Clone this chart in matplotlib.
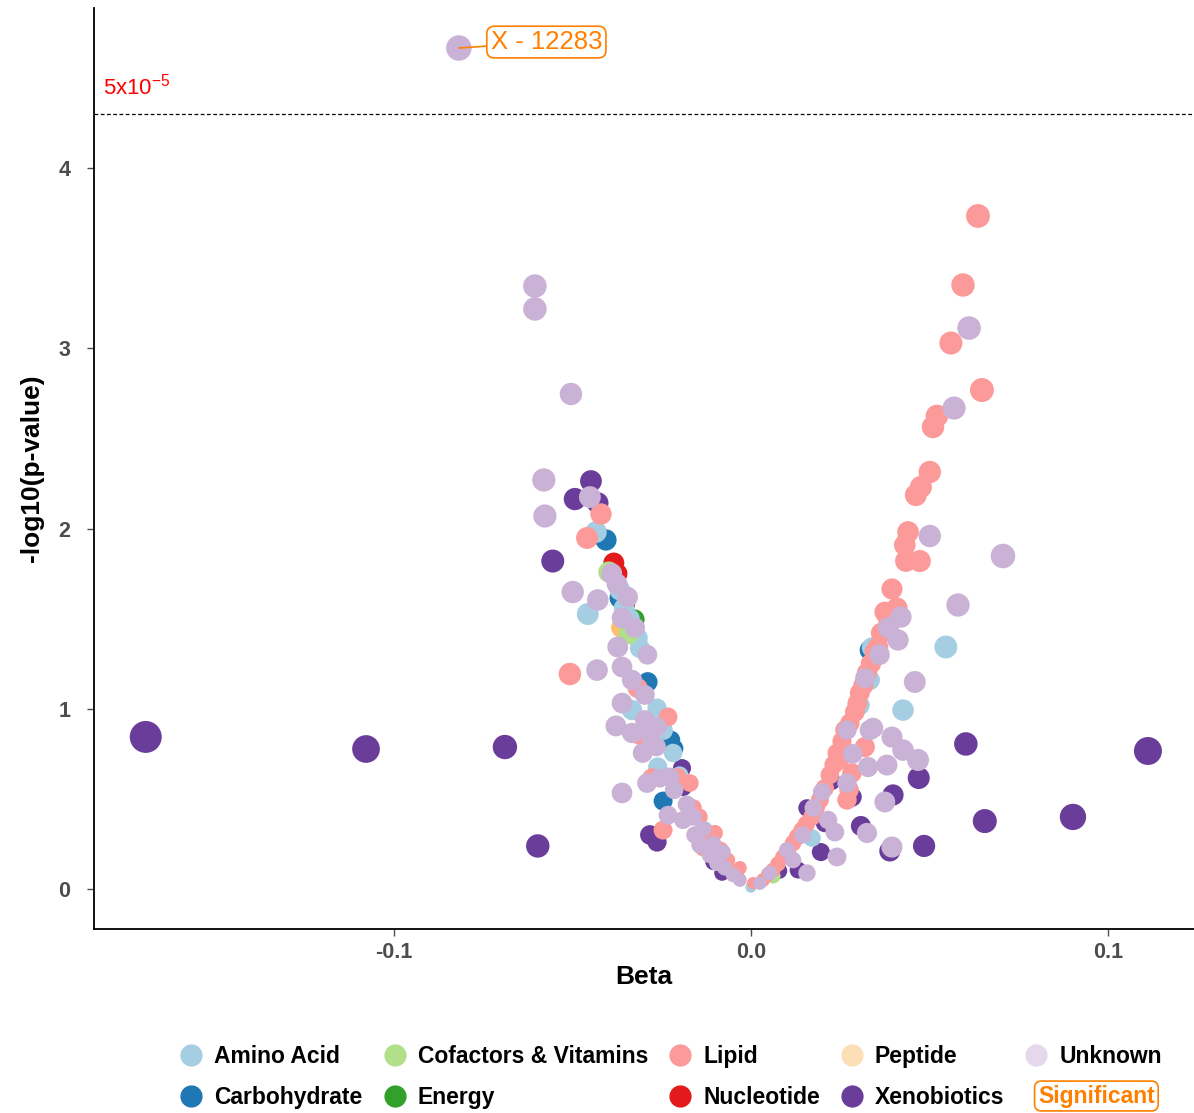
import matplotlib
matplotlib.use("Agg")
import matplotlib.pyplot as plt
from matplotlib.lines import Line2D
import numpy as np

plt.rcParams['font.family'] = ['Liberation Sans', 'DejaVu Sans']

# values (beta, -log10 p) per super pathway
unknown_beta = [-0.0818, -0.0605, -0.0605, -0.0504, -0.058, -0.0577, -0.0451, -0.0499, -0.0429, -0.0431,
                -0.0378, -0.0361, -0.0375, -0.0361, -0.0373, -0.0361, -0.0333, -0.0361, -0.0297, -0.0297,
                -0.0283, -0.0303, -0.0333, -0.0263, -0.0232, -0.019, -0.0157, -0.0078, -0.0095, -0.005,
                -0.0291, -0.0255, -0.0227, -0.0162, -0.0143, -0.0115, -0.0031, -0.0073, -0.039, -0.0345,
                -0.0325, -0.029, -0.0265, -0.0215, -0.018, -0.0135, -0.0105,
                0.0611, 0.0569, 0.0501, 0.0706, 0.058, 0.042, 0.0412, 0.0459, 0.032, 0.0333,
                0.0395, 0.0426, 0.0468, 0.0381, 0.0328, 0.0342, 0.0375, 0.0325, 0.0395, 0.0241,
                0.0157, 0.0216, 0.0235, 0.0199, 0.0118, 0.0053, 0.0025, 0.0101, 0.0269, 0.0269,
                0.0175, 0.0145, 0.0285, 0.036, 0.0385]
unknown_logp = [4.667, 3.346, 3.219, 2.747, 2.27, 2.07, 2.175, 1.648, 1.604, 1.215,
                0.905, 0.533, 1.693, 1.504, 1.343, 1.232, 1.16, 1.032, 1.077, 0.938,
                0.855, 0.755, 0.866, 0.90, 0.41, 0.383, 0.30, 0.205, 0.144, 0.078,
                0.588, 0.616, 0.622, 0.40, 0.244, 0.189, 0.05, 0.117, 1.75, 1.62,
                1.45, 1.30, 0.79, 0.55, 0.47, 0.33, 0.25,
                3.113, 2.669, 1.959, 1.848, 1.576, 1.509, 1.382, 1.149, 1.17, 0.882,
                0.843, 0.771, 0.716, 0.688, 0.677, 0.894, 0.483, 0.311, 0.233, 0.178,
                0.089, 0.383, 0.316, 0.538, 0.161, 0.089, 0.033, 0.216, 0.882, 0.588,
                0.45, 0.30, 0.75, 1.30, 1.45]

xeno_beta = [-0.1695, -0.1078, -0.0689, -0.0597, -0.0555, -0.0448, -0.0493, -0.0429, -0.0347, 0.0602,
             0.1112, 0.0655, 0.0902, 0.0485, 0.047, 0.0398, 0.0389, 0.0308, 0.0196, 0.0283,
             0.0132, 0.0207, 0.0157, -0.0283, -0.0263, -0.0193, -0.019, -0.0081, 0.0225, 0.0245,
             -0.0105, 0.008]
xeno_logp = [0.844, 0.777, 0.788, 0.239, 1.82, 2.264, 2.164, 2.142, 1.493, 0.805,
             0.766, 0.377, 0.40, 0.239, 0.616, 0.522, 0.211, 0.35, 0.205, 0.511,
             0.105, 0.366, 0.45, 0.30, 0.261, 0.671, 0.566, 0.089, 0.60, 0.72,
             0.15, 0.10]

lipid_beta = [0.0636, 0.0594, 0.056, 0.0647, 0.0521, 0.051, 0.0501, 0.0476, 0.0462, 0.044,
              0.0431, 0.0434, 0.0473, 0.0395, 0.0409, 0.0375, 0.0356, 0.0347, 0.0325, 0.0305,
              0.0291, 0.0263, 0.0319, 0.0283, 0.0269, 0.0241, 0.0221, 0.0193, 0.0171, 0.0143,
              0.0118, 0.009, 0.0062, 0.0034, 0.0249, 0.0385, 0.0365, 0.0336, 0.0315, 0.0298,
              0.0277, 0.0255, 0.0232, 0.0207, 0.0182, 0.0155, 0.013, 0.0104, 0.0076, 0.0048,
              0.0275,
              -0.0507, -0.042, -0.0459, -0.0317, -0.0311, -0.0277, -0.0171, -0.0246, -0.0162, -0.0123,
              -0.0101, -0.0134, -0.0036, 0.0006, -0.0031, -0.0232, -0.0205, -0.0145, -0.0065, -0.0085]
lipid_logp = [3.735, 3.352, 3.03, 2.769, 2.625, 2.564, 2.314, 2.231, 2.186, 1.981,
              1.909, 1.82, 1.82, 1.665, 1.559, 1.537, 1.343, 1.315, 1.199, 1.088,
              0.982, 0.882, 0.788, 0.644, 0.494, 0.755, 0.633, 0.494, 0.40, 0.327,
              0.255, 0.178, 0.105, 0.05, 0.716, 1.50, 1.42, 1.25, 1.13, 1.03,
              0.92, 0.82, 0.69, 0.56, 0.45, 0.36, 0.29, 0.21, 0.14, 0.08,
              0.55,
              1.193, 2.081, 1.948, 1.115, 0.855, 0.616, 0.588, 0.327, 0.45, 0.311,
              0.311, 0.228, 0.105, 0.033, 0.117, 0.955, 0.62, 0.40, 0.16, 0.22]

amino_beta = [0.0546, 0.0426, -0.0457, -0.0434, -0.0367, -0.0317, -0.0311, -0.0263, -0.0333, -0.0261,
              -0.0218, -0.013, 0.0171, 0.0333, 0.0339, -0.034, -0.0355, -0.0245, -0.02, 0.0305,
              -0.0115, 0.0]
amino_logp = [1.343, 0.993, 1.526, 1.981, 1.659, 1.393, 1.337, 1.004, 0.993, 0.677,
              0.755, 0.33, 0.283, 1.16, 1.34, 1.50, 1.56, 0.88, 0.63, 1.02,
              0.26, 0.01]

carb_beta = [-0.0406, -0.0367, -0.0289, -0.0246, -0.0224, 0.0333, -0.0215]
carb_logp = [1.937, 1.615, 1.149, 0.488, 0.827, 1.326, 0.78]

nucleo_beta = [-0.0384, -0.0353, -0.0375]
nucleo_logp = [1.809, 1.582, 1.75]

cofactor_beta = [-0.0398, -0.0342, 0.0062]
cofactor_logp = [1.759, 1.415, 0.072]

energy_beta = [-0.0328]
energy_logp = [1.498]

peptide_beta = [-0.0364]
peptide_logp = [1.454]

sig_label = "X - 12283"
sig_beta, sig_logp = -0.0818, 4.667
p_threshold = 5e-5

colors = {
    'Amino Acid': '#A6CEE3', 'Carbohydrate': '#1F78B4', 'Cofactors & Vitamins': '#B2DF8A',
    'Energy': '#33A02C', 'Lipid': '#FB9A99', 'Nucleotide': '#E31A1C', 'Peptide': '#FDBF6F',
    'Xenobiotics': '#6A3D9A', 'Unknown': '#CAB2D6',
}
legend_colors = dict(colors, Peptide='#FDDFB7', Unknown='#E4D8EA')

groups = {
    'Xenobiotics': (xeno_beta, xeno_logp),
    'Nucleotide': (nucleo_beta, nucleo_logp),
    'Energy': (energy_beta, energy_logp),
    'Peptide': (peptide_beta, peptide_logp),
    'Carbohydrate': (carb_beta, carb_logp),
    'Amino Acid': (amino_beta, amino_logp),
    'Cofactors & Vitamins': (cofactor_beta, cofactor_logp),
    'Lipid': (lipid_beta, lipid_logp),
    'Unknown': (unknown_beta, unknown_logp),
}


def point_size(b):
    # marker diameter grows with |beta|
    d = 11 + 21 * np.sqrt(np.abs(b) / 0.17)
    return (d * 0.72) ** 2


fig = plt.figure(figsize=(11.94, 11.13), dpi=100)
ax = fig.add_axes([0.0787, 0.1653, 0.9213, 0.8275])

for name, (b, p) in groups.items():
    b = np.array(b)
    ax.scatter(b, p, s=point_size(b), color=colors[name], linewidths=0, zorder=3)

thr = -np.log10(p_threshold)
ax.axhline(thr, color='black', linestyle=(0, (3, 2)), linewidth=0.9, zorder=2)
ax.text(-0.1815, thr + 0.08, r'5x10$^{\mathregular{-5}}$', color='red', fontsize=16,
        ha='left', va='bottom')

ax.annotate(sig_label, xy=(sig_beta, sig_logp), xytext=(-0.0729, 4.70),
            color='#FF7F00', fontsize=18.5, ha='left', va='center',
            bbox=dict(boxstyle='round,pad=0.15,rounding_size=0.3', fc='white', ec='#FF7F00', lw=1.2),
            arrowprops=dict(arrowstyle='-', color='#FF7F00', lw=1.2, shrinkA=0, shrinkB=0),
            zorder=5)

ax.set_xlim(-0.184, 0.1241)
ax.set_ylim(-0.222, 4.889)
ax.set_xticks([-0.1, 0.0, 0.1])
ax.set_xticklabels(['-0.1', '0.0', '0.1'])
ax.set_yticks([0, 1, 2, 3, 4])
for s in ['top', 'right']:
    ax.spines[s].set_visible(False)
for s in ['left', 'bottom']:
    ax.spines[s].set_linewidth(1.3)
ax.tick_params(colors='#4D4D4D', labelsize=15.5, length=5, width=1)
ax.tick_params(axis='y', pad=12)
ax.tick_params(axis='x', pad=4)
for lab in ax.get_xticklabels() + ax.get_yticklabels():
    lab.set_fontweight('bold')
ax.set_xlabel('Beta', fontsize=19, fontweight='bold', labelpad=2)
ax.set_ylabel('-log10(p-value)', fontsize=19, fontweight='bold', labelpad=10)

order = ['Amino Acid', 'Carbohydrate', 'Cofactors & Vitamins', 'Energy', 'Lipid',
         'Nucleotide', 'Peptide', 'Xenobiotics', 'Unknown']
handles = [Line2D([], [], marker='o', linestyle='', markersize=16, markeredgewidth=0,
                  color=legend_colors[n]) for n in order]
leg = fig.legend(handles, order, ncol=5, loc='upper left', bbox_to_anchor=(0.145, 0.0615),
                 frameon=False, prop={'weight': 'bold', 'size': 16.5}, borderaxespad=0,
                 borderpad=0, columnspacing=0.6, handletextpad=0.2, handlelength=1.6,
                 labelspacing=0.8)
fig.text(1038 / 1194, 1 - 1096 / 1113, 'Significant', color='#FF7F00', fontsize=16.5,
         fontweight='bold', ha='left', va='center',
         bbox=dict(boxstyle='round,pad=0.15,rounding_size=0.3', fc='white', ec='#FF7F00', lw=1.2))

fig.savefig('out.png', dpi=100)
